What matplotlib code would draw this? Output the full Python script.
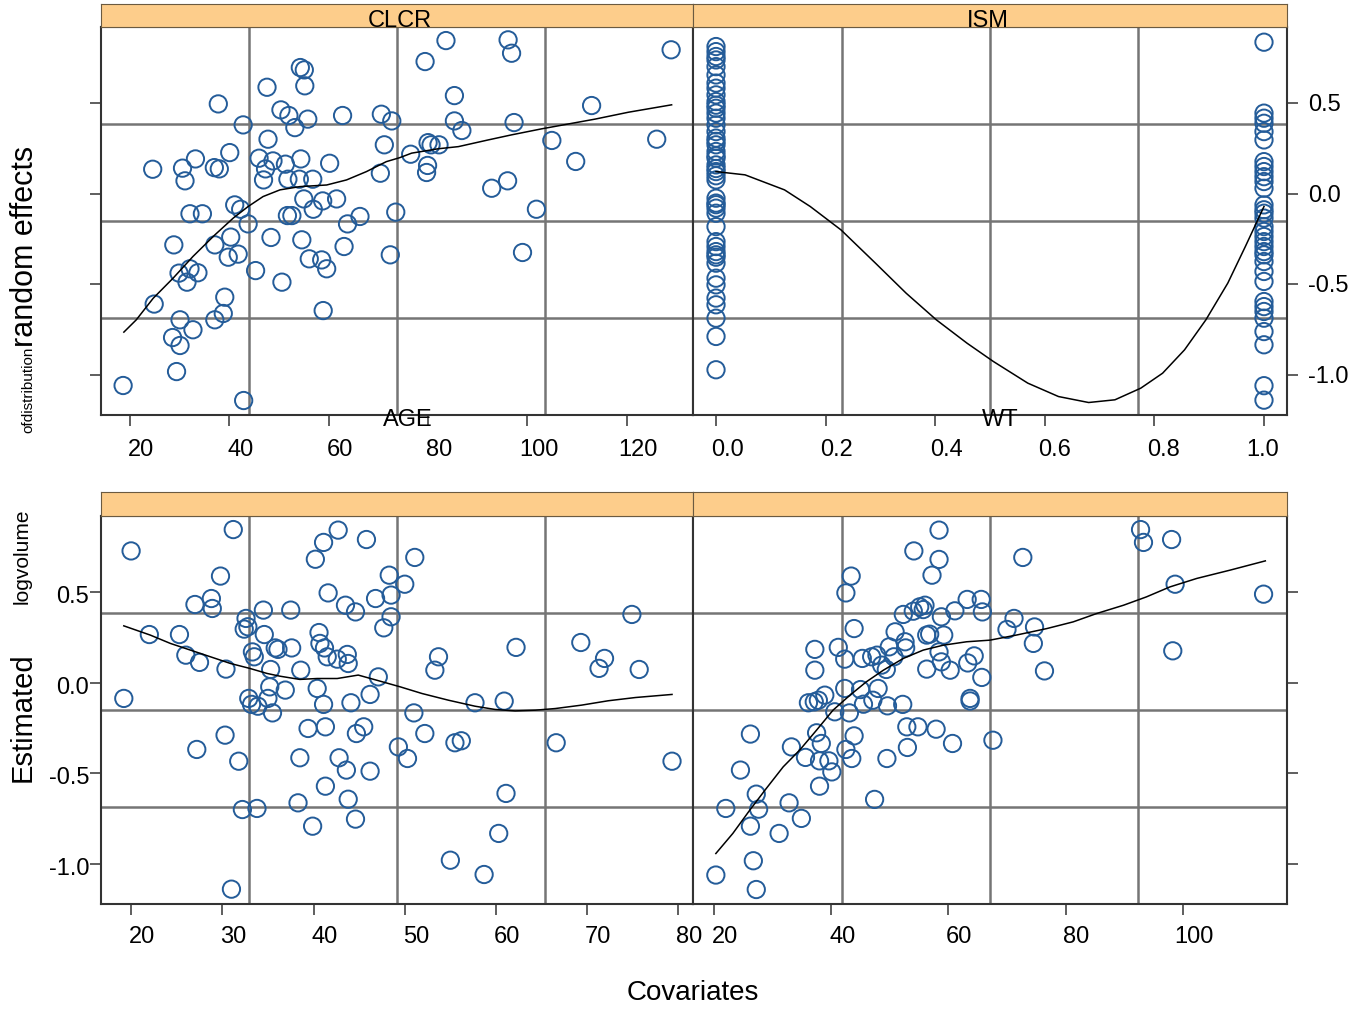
import numpy as np
import matplotlib
matplotlib.use("Agg")
import matplotlib.pyplot as plt
from matplotlib.transforms import blended_transform_factory, offset_copy

plt.rcParams['font.family'] = ['Liberation Sans', 'DejaVu Sans']

# ---------------- data ----------------
clcr_x = [18.65, 42.9, 29.4, 28.6, 30.1, 30.1, 32.7, 37.1, 38.8, 39.1, 24.9, 29.9, 31.5, 32.1, 33.7,
          28.85, 37.1, 40.3, 39.8, 41.8, 45.3, 50.6, 48.4, 54.6, 56.1, 58.6, 59.6, 58.9, 63.1, 63.8,
          66.3, 72.4, 73.5, 43.8, 41.1, 42.3, 32.1, 34.6, 51.7, 52.6, 55.0, 56.9, 58.8, 61.6, 24.6,
          30.6, 31.1, 33.2, 37.0, 38.0, 40.1, 42.8, 37.8, 46.0, 47.8, 47.3, 46.9, 48.8, 51.3, 51.8,
          54.1, 56.8, 54.4, 60.2, 47.6, 50.4, 52.0, 53.2, 55.8, 54.3, 55.1, 55.2, 62.8, 70.6, 72.7,
          71.2, 70.4, 83.6, 79.4, 96.1, 96.8, 128.9, 85.3, 85.3, 86.8, 97.3, 112.9, 104.9, 126.0,
          109.7, 80.0, 80.6, 82.2, 76.5, 79.9, 79.7, 92.8, 96.0, 101.8, 99.0]
clcr_y = [-1.059, -1.142, -0.982, -0.794, -0.838, -0.696, -0.751, -0.696, -0.661, -0.571, -0.609,
          -0.438, -0.488, -0.414, -0.436, -0.282, -0.282, -0.239, -0.350, -0.333, -0.424, -0.488,
          -0.241, -0.254, -0.359, -0.365, -0.414, -0.645, -0.291, -0.166, -0.125, -0.337, -0.101,
          -0.166, -0.061, -0.085, -0.110, -0.110, -0.120, -0.120, -0.028, -0.085, -0.039, -0.028,
          0.136, 0.142, 0.072, 0.193, 0.145, 0.138, 0.228, 0.381, 0.497, 0.197, 0.302, 0.138,
          0.077, 0.182, 0.164, 0.081, 0.081, 0.081, 0.193, 0.169, 0.589, 0.464, 0.433, 0.366,
          0.413, 0.698, 0.685, 0.597, 0.433, 0.440, 0.403, 0.271, 0.114, 0.847, 0.731, 0.851,
          0.777, 0.796, 0.543, 0.403, 0.350, 0.394, 0.488, 0.295, 0.302, 0.179, 0.283, 0.271,
          0.271, 0.219, 0.157, 0.118, 0.031, 0.072, -0.085, -0.324]
clcr_fit_x = [18.8, 21.3, 24.7, 28.7, 32.7, 37.1, 40.8, 43.8, 46.8, 50.2, 54.2, 59.6, 63.6, 67.6,
              71.6, 74.3, 76.7, 82.0, 86.1, 92.1, 96.8, 102.8, 113.6, 120.3, 129.0]
clcr_fit_y = [-0.764, -0.696, -0.577, -0.466, -0.346, -0.227, -0.134, -0.070, -0.015, 0.022, 0.040,
              0.049, 0.077, 0.123, 0.178, 0.200, 0.225, 0.249, 0.261, 0.298, 0.326, 0.359, 0.413,
              0.451, 0.492]

ism0_y = [0.814, 0.786, 0.759, 0.740, 0.703, 0.657, 0.612, 0.584, 0.547, 0.510, 0.490, 0.473, 0.446,
          0.418, 0.381, 0.344, 0.308, 0.290, 0.271, 0.234, 0.210, 0.197, 0.160, 0.140, 0.123, 0.100,
          0.077, -0.024, -0.051, -0.060, -0.079, -0.107, -0.181, -0.264, -0.291, -0.319, -0.337,
          -0.350, -0.383, -0.466, -0.503, -0.576, -0.613, -0.687, -0.788, -0.972]
ism1_y = [0.838, 0.446, 0.418, 0.390, 0.344, 0.298, 0.178, 0.151, 0.123, 0.095, 0.068, 0.031,
          -0.061, -0.088, -0.107, -0.134, -0.181, -0.208, -0.236, -0.264, -0.291, -0.319, -0.337,
          -0.374, -0.429, -0.484, -0.595, -0.623, -0.650, -0.687, -0.761, -0.834, -1.060, -1.140]
ism_fit_x = [0.0, 0.053, 0.125, 0.172, 0.228, 0.291, 0.347, 0.402, 0.458, 0.506, 0.569, 0.625,
             0.680, 0.728, 0.775, 0.815, 0.855, 0.894, 0.934, 0.966, 1.0]
ism_fit_y = [0.123, 0.105, 0.022, -0.070, -0.199, -0.383, -0.549, -0.696, -0.825, -0.926, -1.046,
             -1.120, -1.153, -1.138, -1.074, -0.991, -0.862, -0.696, -0.493, -0.291, -0.070]

age_x = [20.0, 31.2, 29.8, 27.0, 28.8, 28.9, 22.0, 25.3, 26.0, 27.5, 30.4, 19.2, 32.6, 32.4, 32.8,
         34.5, 37.5, 34.6, 33.3, 33.5, 35.8, 36.1, 37.6, 35.3, 38.6, 35.2, 36.9, 35.0, 32.9, 33.2,
         33.9, 35.5, 40.4, 41.1, 44.1, 46.2, 47.1, 40.6, 40.7, 41.2, 41.5, 42.6, 43.7, 43.8, 40.2,
         41.1, 42.7, 45.8, 41.6, 43.5, 44.6, 46.8, 48.3, 48.5, 48.5, 47.7, 30.3, 27.2, 31.8, 39.4,
         41.3, 45.5, 44.7, 49.3, 38.5, 42.8, 43.6, 46.2, 41.3, 43.8, 38.3, 32.2, 33.8, 44.6, 39.9,
         31.0, 51.1, 50.0, 53.7, 53.3, 57.7, 60.9, 62.2, 51.0, 52.2, 50.3, 55.5, 56.2, 61.1, 60.3,
         55.0, 58.7, 69.3, 71.3, 71.9, 74.9, 75.7, 66.6, 79.3]
age_y = [0.729, 0.847, 0.590, 0.433, 0.466, 0.411, 0.267, 0.267, 0.153, 0.113, 0.076, -0.086, 0.356,
         0.297, 0.310, 0.402, 0.402, 0.267, 0.171, 0.144, 0.193, 0.185, 0.193, 0.074, 0.070, -0.022,
         -0.040, -0.086, -0.086, -0.119, -0.129, -0.166, -0.031, -0.119, -0.110, -0.064, 0.033,
         0.278, 0.218, 0.193, 0.144, 0.131, 0.157, 0.107, 0.683, 0.776, 0.844, 0.792, 0.497, 0.429,
         0.392, 0.466, 0.595, 0.485, 0.365, 0.304, -0.289, -0.368, -0.433, -0.252, -0.243, -0.243,
         -0.280, -0.354, -0.414, -0.414, -0.482, -0.488, -0.571, -0.643, -0.663, -0.700, -0.694,
         -0.753, -0.792, -1.140, 0.693, 0.545, 0.144, 0.070, -0.110, -0.101, 0.196, -0.166, -0.280,
         -0.418, -0.331, -0.320, -0.611, -0.832, -0.980, -1.059, 0.223, 0.080, 0.135, 0.378, 0.074,
         -0.331, -0.433]
age_fit_x = [19.2, 22.1, 24.3, 26.5, 28.7, 30.9, 33.0, 34.9, 36.3, 38.5, 40.4, 42.6, 44.9, 46.9,
             49.5, 51.9, 54.8, 57.7, 59.9, 62.1, 64.3, 66.5, 69.4, 72.3, 75.3, 79.3]
age_fit_y = [0.315, 0.264, 0.218, 0.181, 0.144, 0.107, 0.080, 0.052, 0.037, 0.019, 0.024, 0.024,
             0.043, 0.015, -0.022, -0.059, -0.096, -0.129, -0.147, -0.155, -0.151, -0.142, -0.123,
             -0.099, -0.081, -0.064]

wt_x = [20.3, 27.2, 26.7, 26.2, 22.0, 27.2, 27.6, 31.1, 32.8, 34.9, 24.5, 26.2, 33.2, 35.6, 37.5,
        38.3, 38.0, 39.6, 40.1, 38.0, 42.5, 43.5, 43.9, 47.4, 49.5, 53.0, 52.9, 54.8, 57.9, 60.7,
        67.6, 36.1, 37.1, 37.8, 38.9, 40.6, 43.1, 45.5, 47.1, 49.6, 52.2, 42.3, 45.0, 48.0, 37.2,
        37.2, 41.2, 42.3, 43.9, 43.4, 42.5, 45.3, 46.9, 47.8, 48.6, 49.4, 49.9, 50.7, 50.9, 52.6,
        52.7, 52.3, 54.0, 55.1, 56.0, 55.7, 58.8, 56.3, 56.8, 59.2, 58.4, 58.8, 56.3, 60.3, 61.1,
        63.2, 65.6, 65.8, 63.3, 64.4, 65.7, 63.7, 63.7, 54.1, 58.4, 58.4, 57.2, 72.7, 92.8, 93.3,
        98.1, 98.7, 113.8, 98.3, 71.2, 70.0, 74.7, 74.5, 76.4]
wt_y = [-1.062, -1.142, -0.983, -0.792, -0.694, -0.615, -0.698, -0.832, -0.663, -0.749, -0.482,
        -0.283, -0.354, -0.412, -0.276, -0.335, -0.431, -0.431, -0.492, -0.571, -0.368, -0.418,
        -0.293, -0.644, -0.418, -0.357, -0.243, -0.243, -0.256, -0.335, -0.317, -0.110, -0.105,
        -0.096, -0.068, -0.160, -0.166, -0.118, -0.096, -0.127, -0.119, -0.031, -0.037, -0.031,
        0.185, 0.070, 0.196, 0.131, 0.300, 0.590, 0.497, 0.135, 0.144, 0.153, 0.098, 0.074, 0.199,
        0.144, 0.282, 0.227, 0.193, 0.378, 0.396, 0.420, 0.429, 0.405, 0.365, 0.264, 0.269, 0.264,
        0.171, 0.116, 0.076, 0.070, 0.398, 0.461, 0.461, 0.392, 0.110, 0.149, 0.030, -0.086, -0.100,
        0.729, 0.844, 0.682, 0.595, 0.693, 0.847, 0.776, 0.792, 0.545, 0.490, 0.177, 0.356, 0.295,
        0.309, 0.218, 0.066]
wt_fit_x = [20.3, 23.2, 26.1, 28.9, 31.8, 34.6, 37.5, 40.3, 43.2, 46.0, 48.9, 52.3, 55.7, 59.1,
            63.1, 67.1, 71.6, 76.8, 81.3, 85.3, 89.9, 93.8, 97.8, 102.4, 108.1, 114.1]
wt_fit_y = [-0.943, -0.832, -0.703, -0.584, -0.464, -0.372, -0.261, -0.151, -0.068, 0.006, 0.070,
            0.135, 0.181, 0.208, 0.227, 0.236, 0.264, 0.300, 0.337, 0.383, 0.429, 0.475, 0.530,
            0.577, 0.623, 0.674]

y_ticks = [-1.0, -0.5, 0.0, 0.5]
y_tick_labels = ["-1.0", "-0.5", "0.0", "0.5"]
clcr_ticks = [20, 40, 60, 80, 100, 120]
ism_ticks = [0.0, 0.2, 0.4, 0.6, 0.8, 1.0]
age_ticks = [20, 30, 40, 50, 60, 70, 80]
wt_ticks = [20, 40, 60, 80, 100]

# ---------------- styling ----------------
W, H = 1361, 1011
PT_COLOR = '#245c99'
GRID_COLOR = '#757575'
STRIP_COLOR = '#fdcd8b'
EDGE = '#333333'
YLIM = (-1.222, 0.922)
TICK_FS = 17

fig = plt.figure(figsize=(W / 100, H / 100), dpi=100)


def rect(x0, y0, x1, y1):
    return [x0 / W, 1 - y1 / H, (x1 - x0) / W, (y1 - y0) / H]


def make_panel(box, xlim, side):
    ax = fig.add_axes(rect(*box))
    ax.set_xlim(*xlim)
    ax.set_ylim(*YLIM)
    for sp in ax.spines.values():
        sp.set_color(EDGE)
        sp.set_linewidth(1.5)
    for f in (0.25, 0.5, 0.75):
        ax.plot([f, f], [0, 1], transform=ax.transAxes, color=GRID_COLOR, lw=1.8, zorder=1)
        ax.plot([0, 1], [f, f], transform=ax.transAxes, color=GRID_COLOR, lw=1.8, zorder=1)
    ax.set_yticks(y_ticks)
    ax.tick_params(axis='both', direction='out', length=8, width=1.1, color=EDGE,
                   labelbottom=False, labelleft=False, labelright=False, labeltop=False)
    if side == 'right':
        ax.yaxis.tick_right()
    else:
        ax.yaxis.tick_left()
    ax.tick_params(axis='y', labelleft=False, labelright=False)
    return ax


def strip(box):
    s = fig.add_axes(rect(*box))
    s.set_facecolor(STRIP_COLOR)
    s.set_xticks([])
    s.set_yticks([])
    for sp in s.spines.values():
        sp.set_color('#6b5a40')
        sp.set_linewidth(0.8)
    return s


def xlabels(ax, ticks, labels, dy, dxs=None):
    ax.set_xticks(ticks)
    base = blended_transform_factory(ax.transData, ax.transAxes)
    for i, (t, l) in enumerate(zip(ticks, labels)):
        dx = 11 if dxs is None else dxs[i]
        tr = offset_copy(base, fig=fig, x=dx, y=dy, units='dots')
        ax.text(t, 0, l, transform=tr, ha='center', va='center', fontsize=TICK_FS, clip_on=False)


def ylabels(ax, side):
    if side == 'right':
        tr = offset_copy(blended_transform_factory(ax.transAxes, ax.transData), fig=fig,
                         x=21, y=-2, units='dots')
        for t, l in zip(y_ticks, y_tick_labels):
            ax.text(1, t, l, transform=tr, ha='left', va='center', fontsize=TICK_FS)
    else:
        tr = offset_copy(blended_transform_factory(ax.transAxes, ax.transData), fig=fig,
                         x=-12, y=-5, units='dots')
        for t, l in zip(y_ticks, y_tick_labels):
            ax.text(0, t, l, transform=tr, ha='right', va='center', fontsize=TICK_FS)


def points(ax, x, y):
    ax.scatter(x, y, s=155, facecolors='none', edgecolors=PT_COLOR, linewidths=1.4, zorder=2)


def curve(ax, x, y):
    ax.plot(x, y, color='black', lw=1.1, zorder=3)


# panels
ax_clcr = make_panel((101, 27, 693, 415), (14.2, 133.3), 'left')
ax_ism = make_panel((693, 27, 1287, 415), (-0.042, 1.042), 'right')
ax_age = make_panel((101, 516, 693, 904), (16.7, 81.6), 'left')
ax_wt = make_panel((693, 516, 1287, 904), (16.4, 117.8), 'right')

points(ax_clcr, clcr_x, clcr_y)
curve(ax_clcr, clcr_fit_x, clcr_fit_y)
points(ax_ism, np.zeros(len(ism0_y)), ism0_y)
points(ax_ism, np.ones(len(ism1_y)), ism1_y)
curve(ax_ism, ism_fit_x, ism_fit_y)
points(ax_age, age_x, age_y)
curve(ax_age, age_fit_x, age_fit_y)
points(ax_wt, wt_x, wt_y)
curve(ax_wt, wt_fit_x, wt_fit_y)

xlabels(ax_clcr, clcr_ticks, [str(t) for t in clcr_ticks], -35)
xlabels(ax_ism, ism_ticks, ["%.1f" % t for t in ism_ticks], -35, dxs=[11, 11, 11, 10, 9, -1])
xlabels(ax_age, age_ticks, [str(t) for t in age_ticks], -33)
xlabels(ax_wt, wt_ticks, [str(t) for t in wt_ticks], -33)
ylabels(ax_ism, 'right')
ylabels(ax_age, 'left')

# strips
strip((101, 4, 693, 27))
strip((693, 4, 1287, 27))
strip((101, 492, 693, 516))
strip((693, 492, 1287, 516))


def ftext(x, y, s, **kw):
    fig.text(x / W, 1 - y / H, s, **kw)


ftext(400, 21, "CLCR", ha='center', va='center', fontsize=17)
ftext(988, 21, "ISM", ha='center', va='center', fontsize=17)
ftext(408, 420, "AGE", ha='center', va='center', fontsize=17)
ftext(1000, 420, "WT", ha='center', va='center', fontsize=17)

ftext(693, 993, "Covariates", ha='center', va='center', fontsize=20)
ftext(32, 433, "ofdistribution", rotation=90, rotation_mode='anchor', ha='left',
      va='baseline', fontsize=11)
ftext(33, 347, "random effects", rotation=90, rotation_mode='anchor', ha='left',
      va='baseline', fontsize=22)
ftext(31, 782, "Estimated", rotation=90, rotation_mode='anchor', ha='left',
      va='baseline', fontsize=21)
ftext(28, 604, "logvolume", rotation=90, rotation_mode='anchor', ha='left',
      va='baseline', fontsize=15)

fig.savefig("out.png", dpi=100, facecolor='white')
